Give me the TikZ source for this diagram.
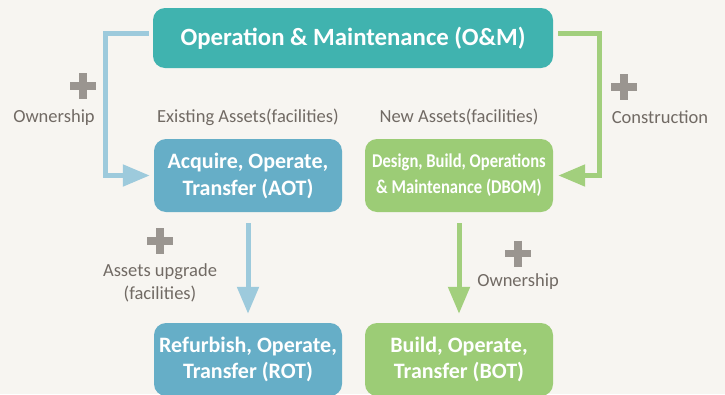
\documentclass[tikz,border=0pt]{standalone}
\usepackage{fontspec}
\setmainfont{Carlito}
\usetikzlibrary{positioning,arrows.meta}

\definecolor{bgcol}{HTML}{F7F5F1}
\definecolor{omcol}{HTML}{40B3AF}
\definecolor{bluebox}{HTML}{66AEC7}
\definecolor{bluearr}{HTML}{9DCADC}
\definecolor{greenbox}{HTML}{9CCC76}
\definecolor{greenarr}{HTML}{A2CF7D}
\definecolor{plusgray}{HTML}{9A9590}
\definecolor{labelgray}{HTML}{716A64}

% narrow bold text for the long box
\newcommand{\narrow}[1]{\scalebox{0.85}[1]{#1}}

\begin{document}
\begin{tikzpicture}[x=1pt,y=-1pt,
    box/.style={rounded corners=12pt, text=white, font=\bfseries, align=center, inner sep=0pt},
    label/.style={text=labelgray, font=\fontsize{18.5}{23}\selectfont, align=center},
    flow/.style={line width=5pt, -{Triangle[length=27pt,width=21pt]}},
    plus/.style={plusgray, line width=7.5pt}]
    \fill[bgcol] (0,0) rectangle (725,394);
    \useasboundingbox (0,0) rectangle (725,394);

    \node[box, fill=omcol, minimum width=400pt, minimum height=60pt,
          font=\bfseries\fontsize{24.8}{28}\selectfont] (om) at (353,38) {Operation \& Maintenance (O\&M)};
    \node[box, fill=bluebox, minimum width=188pt, minimum height=73pt,
          font=\bfseries\fontsize{22}{27}\selectfont] (aot) at (248,175.5) {Acquire, Operate,\\Transfer (AOT)};
    \node[box, fill=greenbox, minimum width=188pt, minimum height=73pt,
          font=\bfseries\fontsize{19.5}{26}\selectfont] (dbom) at (459,175.5)
          {\narrow{Design, Build, Operations}\\\narrow{\& Maintenance (DBOM)}};
    \node[box, fill=bluebox, minimum width=188pt, minimum height=73pt,
          font=\bfseries\fontsize{22}{26}\selectfont] (rot) at (248,359.5) {Refurbish, Operate,\\Transfer (ROT)};
    \node[box, fill=greenbox, minimum width=188pt, minimum height=73pt,
          font=\bfseries\fontsize{22}{26}\selectfont] (bot) at (459,359.5) {Build, Operate,\\Transfer (BOT)};

    % side arrows
    \draw[flow, bluearr, shorten >=4pt] ([xshift=-4pt,yshift=5pt]om.west) -- ++(-43,0) |- (aot.west);
    \draw[flow, greenarr, shorten >=5pt] ([xshift=5pt,yshift=4.5pt]om.east) -- ++(41,0) |- (dbom.east);
    % down arrows
    \draw[flow, bluearr, shorten <=11pt, shorten >=9pt] (aot) -- (rot);
    \draw[flow, greenarr, shorten <=11pt, shorten >=9pt] (dbom) -- (bot);

    \foreach \x/\y in {83/86, 624/87, 160/241, 518/253.5}
        \draw[plus] (\x-13,\y) -- (\x+13,\y) (\x,\y-13) -- (\x,\y+13);

    \node[label] (own1) at (54,118) {Ownership};
    \node[label] (exist) at (248,117) {Existing Assets(facilities)};
    \node[label] (new) at (459,117) {New Assets(facilities)};
    \node[label] (constr) at (660,117) {Construction};
    \node[label] (upgrade) at (160,283) {Assets upgrade\\(facilities)};
    \node[label] (own2) at (518,282) {Ownership};
\end{tikzpicture}
\end{document}
